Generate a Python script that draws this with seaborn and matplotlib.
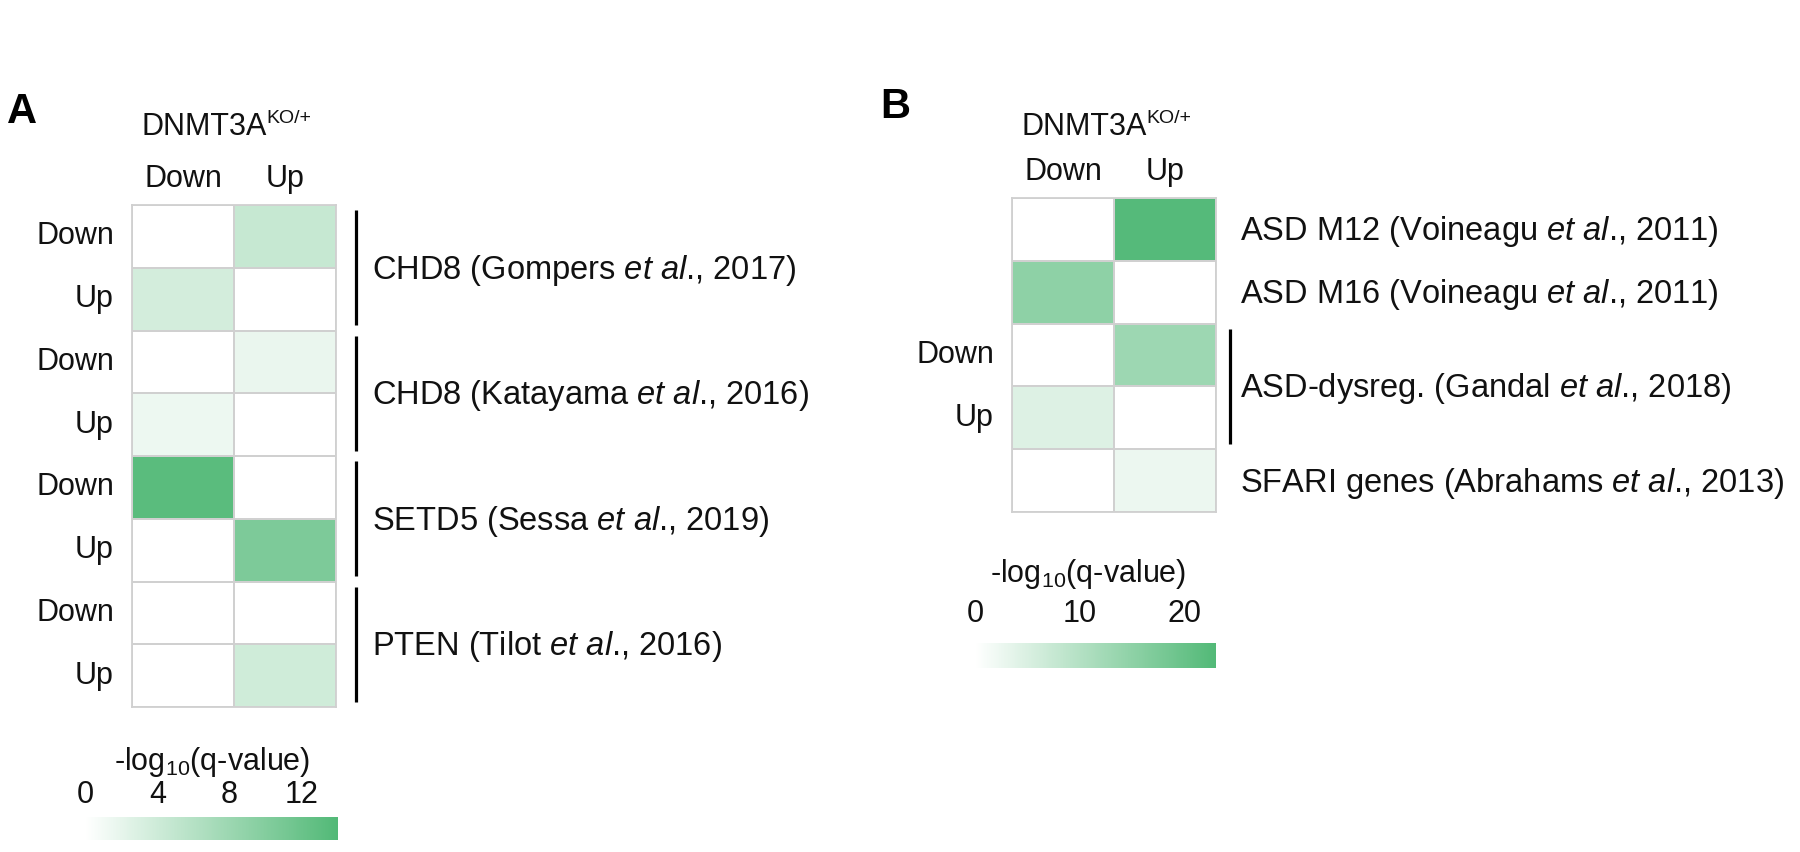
import numpy as np
import pandas as pd
import matplotlib
matplotlib.use('Agg')
import matplotlib.pyplot as plt
import seaborn as sns
from matplotlib.colors import LinearSegmentedColormap


# =========================================================
# DATA
# =========================================================

columns = ['Down', 'Up']

a_row_labels = ['Down', 'Up', 'Down', 'Up', 'Down', 'Up', 'Down', 'Up']
a_down = [0, 3.6, 0, 1.5, 13.3, 0, 0, 0]
a_up = [4.6, 0, 1.7, 0, 0, 10.5, 0, 3.9]
a_groups = [
    (0, 2, r'CHD8 (Gompers $\mathit{et\ al}$., 2017)'),
    (2, 4, r'CHD8 (Katayama $\mathit{et\ al}$., 2016)'),
    (4, 6, r'SETD5 (Sessa $\mathit{et\ al}$., 2019)'),
    (6, 8, r'PTEN (Tilot $\mathit{et\ al}$., 2016)'),
]
a_ticks = [0, 4, 8, 12]
a_vmax = 14

b_row_labels = ['', '', 'Down', 'Up', '']
b_down = [0, 15.0, 0, 4.5, 0]
b_up = [22.5, 0, 13.0, 0, 2.6]
b_groups = [
    (0, 1, r'ASD M12 (Voineagu $\mathit{et\ al}$., 2011)'),
    (1, 2, r'ASD M16 (Voineagu $\mathit{et\ al}$., 2011)'),
    (2, 4, r'ASD-dysreg. (Gandal $\mathit{et\ al}$., 2018)'),
    (4, 5, r'SFARI genes (Abrahams $\mathit{et\ al}$., 2013)'),
]
b_ticks = [0, 10, 20]
b_vmax = 23

# =========================================================
# STYLE
# =========================================================

sns.set_style('white')
plt.rcParams['font.family'] = ['Liberation Sans', 'DejaVu Sans']
plt.rcParams['mathtext.fontset'] = 'custom'
plt.rcParams['mathtext.rm'] = 'Liberation Sans'
plt.rcParams['mathtext.it'] = 'Liberation Sans:italic'
plt.rcParams['mathtext.bf'] = 'Liberation Sans:bold'

FS = 22
GROUP_FS = 23.5
GREENS = LinearSegmentedColormap.from_list('wg', ['#ffffff', '#52b977'])
TXT = '#111111'

W, H = 1800, 852
fig = plt.figure(figsize=(W / 100, H / 100), dpi=100)


def px_axes(x0, y0, x1, y1):
    return fig.add_axes([x0 / W, 1 - y1 / H, (x1 - x0) / W, (y1 - y0) / H])


def draw_panel(box, cbox, rows, down, up, groups, vmax, ticks,
               bracket_x, label_x, tick_pad, letter, letter_xy, title_y,
               cb_label_xy):
    ax = px_axes(*box)
    cax = px_axes(*cbox)

    df = pd.DataFrame({'Down': down, 'Up': up}, columns=columns)

    sns.heatmap(df, ax=ax, cmap=GREENS, vmin=0, vmax=vmax,
                linewidths=1.3, linecolor='#d0d0d0',
                cbar_ax=cax, cbar_kws={'orientation': 'horizontal'})

    for s in ax.spines.values():
        s.set_visible(True)
        s.set_color('#d0d0d0')
        s.set_linewidth(1.3)

    ax.xaxis.tick_top()
    ax.set_xticklabels(columns, fontsize=FS, color=TXT)
    ax.set_yticks(np.arange(len(rows)) + 0.5)
    ax.set_yticklabels(rows, fontsize=FS, rotation=0, color=TXT)
    ax.tick_params(axis='x', length=0, pad=8)
    ax.tick_params(axis='y', length=0, pad=13)
    ax.set_xlabel('')
    ax.set_ylabel('')

    for start, end, text in groups:
        if end - start > 1:
            ax.plot([bracket_x, bracket_x], [start + 0.08, end - 0.08],
                    color='black', lw=2.3, clip_on=False,
                    solid_capstyle='butt')
        ax.text(label_x, (start + end) / 2 + 0.04, text, fontsize=GROUP_FS,
                va='center', ha='left', clip_on=False, color=TXT)

    # title above the heatmap, superscript drawn as its own text
    cx = (box[0] + box[2]) / 2 + 33
    fig.text(cx / W, 1 - title_y / H, 'DNMT3A', fontsize=FS,
             ha='right', va='baseline', color=TXT)
    fig.text((cx - 1) / W, 1 - (title_y - 12) / H, 'KO/+', fontsize=14,
             ha='left', va='baseline', color=TXT)

    # panel letter
    fig.text(letter_xy[0] / W, 1 - letter_xy[1] / H, letter,
             fontsize=30, fontweight='bold', ha='left', va='baseline',
             color='black')

    # colorbar
    cbar = ax.collections[0].colorbar
    cbar.outline.set_visible(False)
    cbar.set_ticks(ticks)
    cax.xaxis.set_ticks_position('top')
    cax.tick_params(axis='x', length=0, pad=tick_pad, labelsize=FS,
                    labelcolor=TXT)
    fig.text(cb_label_xy[0] / W, 1 - cb_label_xy[1] / H,
             r'-log$_{10}$(q-value)', fontsize=FS, ha='center',
             va='baseline', color=TXT)
    return ax


draw_panel((132, 205, 336, 707), (85, 817, 338, 840),
           a_row_labels, a_down, a_up, a_groups, a_vmax, a_ticks,
           bracket_x=2.2, label_x=2.35, tick_pad=5,
           letter='A', letter_xy=(7, 123), title_y=135,
           cb_label_xy=(212, 770))

draw_panel((1012, 198, 1216, 512), (975, 643, 1216, 668),
           b_row_labels, b_down, b_up, b_groups, b_vmax, b_ticks,
           bracket_x=2.14, label_x=2.24, tick_pad=10,
           letter='B', letter_xy=(880, 118), title_y=135,
           cb_label_xy=(1088, 582))

fig.savefig('out.png', dpi=100)
